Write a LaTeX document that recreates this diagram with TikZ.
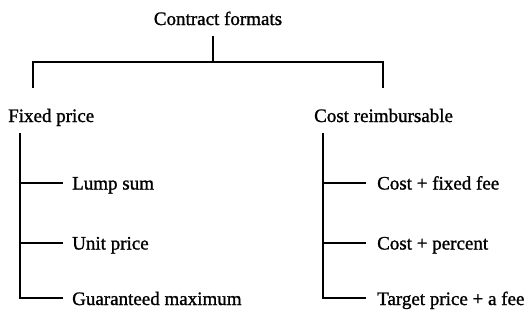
\documentclass[tikz,border=0pt]{standalone}
\usepackage{fontspec}
\setmainfont{Liberation Serif}
\newfontfamily\heavyserif[FakeBold=1.2]{Liberation Serif}
\begin{document}
\begin{tikzpicture}[x=1pt,y=-1pt,
  lbl/.style={inner sep=0pt,anchor=base west,font=\heavyserif\fontsize{19}{22}\selectfont},
  conn/.style={line width=2.2pt,line cap=rect},
  brn/.style={line width=2pt}]
\useasboundingbox (0,0) rectangle (528,325);
% root
\node[lbl,anchor=base] (root) at (218,25) {Contract formats};
\coordinate (top) at (213,37);
\coordinate (bar) at (213,62);
\coordinate (lt) at (33,62);
\coordinate (rt) at (383,62);
\coordinate (lb) at (33,87);
\coordinate (rb) at (383,87);
\draw[conn] (top) -- (bar);
\draw[conn] (lb) -- (lt) -- (rt) -- (rb);
% categories
\node[lbl] (fixed) at (8,122) {Fixed price};
\node[lbl] (cost) at (314,122) {Cost reimbursable};
% left tree
\coordinate (fl) at (20,133);
\coordinate (f1) at (63,183);
\coordinate (f2) at (63,243);
\coordinate (f3) at (63,298);
\node[lbl] (lump) at (72,189.5) {Lump sum};
\node[lbl] (unit) at (72,249.5) {Unit price};
\node[lbl] (guar) at (72,305) {Guaranteed maximum};
\draw[brn] (fl) |- (f3);
\draw[brn] (fl |- f1) -- (f1);
\draw[brn] (fl |- f2) -- (f2);
% right tree
\coordinate (cl) at (323,133);
\coordinate (c1) at (366,183);
\coordinate (c2) at (366,243);
\coordinate (c3) at (366,298);
\node[lbl] (cfix) at (377,189.5) {Cost + fixed fee};
\node[lbl] (cper) at (377,249.5) {Cost + percent};
\node[lbl] (targ) at (377,305) {Target price + a fee};
\draw[brn] (cl) |- (c3);
\draw[brn] (cl |- c1) -- (c1);
\draw[brn] (cl |- c2) -- (c2);
\end{tikzpicture}
\end{document}
